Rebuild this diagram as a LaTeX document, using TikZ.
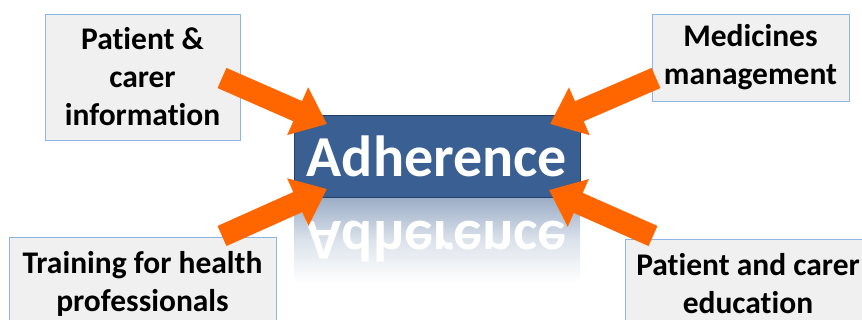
\documentclass[tikz,border=0pt]{standalone}
\usepackage{fontspec}
\setmainfont{Carlito}[Ligatures=NoCommon]
\usetikzlibrary{arrows.meta}
\definecolor{arrowor}{HTML}{FF6600}
\definecolor{adhfill}{HTML}{3A5F93}
\definecolor{adhdraw}{HTML}{24406A}
\definecolor{boxfill}{HTML}{F0F0F0}
\definecolor{boxdraw}{HTML}{8EB4E3}
\definecolor{reflc}{HTML}{9DAFC8}
\tikzset{
  infobox/.style={draw=boxdraw, line width=0.8pt, fill=boxfill, align=center,
    font=\bfseries\fontsize{31.5}{38}\selectfont, inner sep=0pt},
  bigarrow/.style={draw=arrowor, line width=22pt,
    -{Triangle[width=50pt,length=32pt]}}
}
\begin{document}
\begin{tikzpicture}[x=1pt,y=-1pt]
\useasboundingbox (0,0) rectangle (862,320);
\clip (0,0) rectangle (862,320);
% reflection
\fill[top color=reflc, bottom color=white, middle color=reflc!35] (294,199) rectangle (580,283);
\node[text=white, font=\bfseries\fontsize{58}{60}\selectfont, inner sep=0pt] (refl) at (437,242) {\scalebox{1}[-1]{Adherence}};
% boxes
\node[infobox, minimum width=195pt, minimum height=126pt] (pci) at (142.5,77) {Patient \&\\carer\\information};
\node[infobox, minimum width=197pt, minimum height=87pt] (med) at (750.5,57.5) {Medicines\\management};
\node[infobox, minimum width=267pt, minimum height=94pt] (trn) at (142.5,284) {Training for health\\professionals};
\node[infobox, minimum width=246pt, minimum height=89pt] (edu) at (748,283.5) {Patient and carer\\education};
\node[draw=adhdraw, line width=0.8pt, fill=adhfill, text=white, minimum width=286pt, minimum height=82pt,
  font=\bfseries\fontsize{58}{60}\selectfont, inner sep=0pt] (adh) at (437,156) {Adherence};
% arrows
\coordinate (s1) at (222,78);  \coordinate (t1) at (327,124);
\coordinate (s2) at (656,78);  \coordinate (t2) at (550,124);
\coordinate (s3) at (222,236); \coordinate (t3) at (327,189);
\coordinate (s4) at (653,236); \coordinate (t4) at (549,190);
\draw[bigarrow] (s1) -- (t1);
\draw[bigarrow] (s2) -- (t2);
\draw[bigarrow] (s3) -- (t3);
\draw[bigarrow] (s4) -- (t4);
\end{tikzpicture}
\end{document}
